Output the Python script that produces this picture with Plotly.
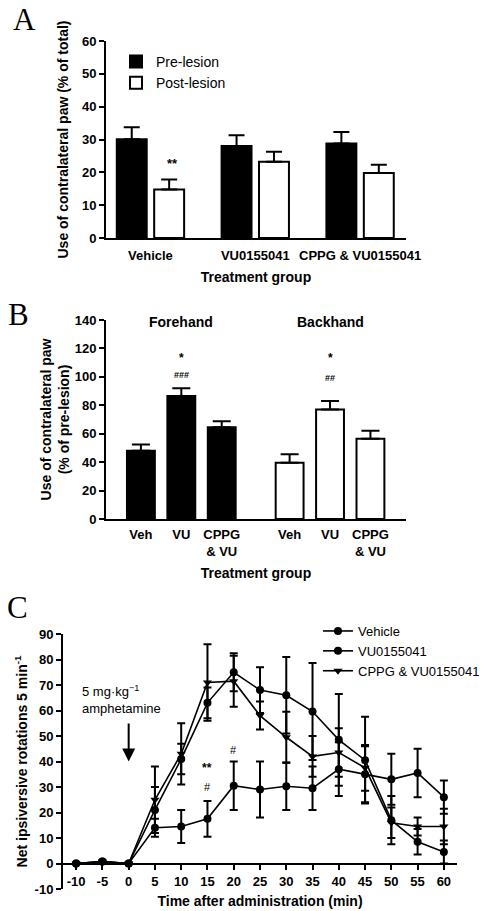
import plotly.graph_objects as go

W, H = 502, 911

# ---------------- Panel A data ----------------
a_groups = ["Vehicle", "VU0155041", "CPPG & VU0155041"]
a_pre = [30.1, 28.0, 28.8]
a_pre_err = [3.6, 3.3, 3.5]
a_post = [14.8, 23.2, 19.8]
a_post_err = [3.0, 3.1, 2.5]

# ---------------- Panel B data ----------------
b_labels = ["Veh", "VU", "CPPG<br>& VU"]
b_sides = ["Forehand", "Backhand"]
b_fore = [48.0, 86.5, 64.5]
b_fore_err = [4.5, 5.5, 4.3]
b_back = [39.5, 77.0, 56.5]
b_back_err = [6.0, 6.0, 5.5]

# ---------------- Panel C data ----------------
c_time = [-10, -5, 0, 5, 10, 15, 20, 25, 30, 35, 40, 45, 50, 55, 60]
c_yticks = [-10, 0, 10, 20, 30, 40, 50, 60, 70, 80, 90]
c_vehicle = [0, 0.8, 0, 21, 41, 63, 75, 68, 66, 59.6, 48.5, 40.5, 17, 8.5, 4.5]
c_vehicle_err = [0, 0, 0, 9, 6, 6, 7.5, 9, 15, 19, 18, 17, 9.5, 5, 4.5]
c_vu = [0, 0.8, 0, 14, 14.5, 17.5, 30.5, 29, 30.3, 29.5, 37, 35, 33, 35.5, 26]
c_vu_err = [0, 0, 0, 3.5, 6.5, 7, 9.5, 11, 9.3, 8.5, 10.5, 11, 10, 9.5, 6.5]
c_cppg = [0, 0.8, 0, 25, 43, 71, 71.5, 58, 49.5, 42, 43.5, 37.5, 16, 14.5, 14.5]
c_cppg_err = [0, 0, 0, 13, 12, 15, 10, 5.5, 10, 8, 9.5, 9, 6, 3.5, 7]

FONT = "Arial, Liberation Sans, Helvetica, sans-serif"
SERIF = "Times New Roman, Liberation Serif, serif"

def px_x(p):
    return p / W

def px_y(p):
    return 1 - p / H

fig = go.Figure()

# Panel A bars
fig.add_trace(go.Bar(
    x=a_groups, y=a_pre, name="Pre-lesion",
    marker=dict(color="black", line=dict(color="black", width=2)),
    error_y=dict(type="data", array=a_pre_err, arrayminus=[0] * 3, symmetric=False,
                 color="black", thickness=2, width=8),
    xaxis="x", yaxis="y", legend="legend"))
fig.add_trace(go.Bar(
    x=a_groups, y=a_post, name="Post-lesion",
    marker=dict(color="white", line=dict(color="black", width=2)),
    error_y=dict(type="data", array=a_post_err, arrayminus=[0] * 3, symmetric=False,
                 color="black", thickness=2, width=8),
    xaxis="x", yaxis="y", legend="legend"))

# Panel B bars (positions come from group/index layout)
GROUP_STEP = 3.68
b_x = [g * GROUP_STEP + i for g in range(2) for i in range(3)]
b_vals = b_fore + b_back
b_errs = b_fore_err + b_back_err
b_colors = ["black"] * 3 + ["white"] * 3
fig.add_trace(go.Bar(
    x=b_x, y=b_vals, width=0.69, showlegend=False,
    marker=dict(color=b_colors, line=dict(color="black", width=2)),
    error_y=dict(type="data", array=b_errs, arrayminus=[0] * 6, symmetric=False,
                 color="black", thickness=2, width=9),
    xaxis="x2", yaxis="y2"))

# Panel C lines
series = [
    ("Vehicle", c_vehicle, c_vehicle_err, "circle"),
    ("VU0155041", c_vu, c_vu_err, "circle"),
    ("CPPG & VU0155041", c_cppg, c_cppg_err, "triangle-down"),
]
for name, vals, errs, sym in series:
    fig.add_trace(go.Scatter(
        x=c_time, y=vals, name=name, mode="lines+markers",
        line=dict(color="black", width=1.6),
        marker=dict(symbol=sym, size=8, color="black"),
        error_y=dict(type="data", array=errs, color="black", thickness=2, width=4),
        xaxis="x3", yaxis="y3", legend="legend2", cliponaxis=False))

tickfont = dict(family=FONT, size=13, color="black", weight="bold")
titlefont = dict(family=FONT, size=14, color="black", weight="bold")
axis_common = dict(showline=True, linecolor="black", linewidth=2, showgrid=False,
                   zeroline=False, tickfont=tickfont, automargin=False)

fig.update_layout(
    width=W, height=H, margin=dict(l=0, r=0, t=0, b=0, autoexpand=False),
    paper_bgcolor="white", plot_bgcolor="white",
    barmode="group", bargap=0.286, bargroupgap=0.2,
    font=dict(family=FONT, color="black"),
    xaxis=dict(domain=[px_x(106), px_x(406)], range=[-0.424, 2.438], anchor="y",
               ticks="", ticklabelstandoff=4,
               title=dict(text="Treatment group", font=titlefont, standoff=11),
               **axis_common),
    yaxis=dict(domain=[px_y(238), px_y(41)], range=[0, 60], dtick=10, anchor="x",
               ticks="outside", ticklen=5, tickwidth=2, tickcolor="black",
               title=dict(text="Use of contralateral paw (% of total)", font=titlefont, standoff=10),
               **axis_common),
    xaxis2=dict(domain=[px_x(106), px_x(406)], range=[-0.864, 6.56], anchor="y2",
                tickmode="array", tickvals=b_x, ticktext=b_labels * 2,
                ticks="", ticklabelstandoff=2,
                title=dict(text="Treatment group", font=titlefont, standoff=11),
                **axis_common),
    yaxis2=dict(domain=[px_y(519), px_y(320)], range=[0, 140], dtick=20, anchor="x2",
                ticks="outside", ticklen=5, tickwidth=2, tickcolor="black",
                title=dict(text="Use of contralateral paw<br>(% of pre-lesion)", font=titlefont, standoff=2),
                **axis_common),
    xaxis3=dict(domain=[px_x(63), px_x(457)], range=[-12.5, 62.5], anchor="free",
                position=px_y(864),
                tickmode="array", tickvals=c_time, ticktext=[str(t) for t in c_time],
                ticks="outside", ticklen=5, tickwidth=2, tickcolor="black",
                title=dict(text="Time after administration (min)", font=titlefont, standoff=8),
                **axis_common),
    yaxis3=dict(domain=[px_y(889), px_y(634)], range=[-10, 90], anchor="x3",
                tickmode="array", tickvals=c_yticks, ticktext=[str(t) for t in c_yticks],
                ticks="outside", ticklen=5, tickwidth=2, tickcolor="black",
                title=dict(text="Net ipsiversive rotations 5 min<sup>-1</sup>", font=titlefont, standoff=4),
                **axis_common),
    legend=dict(x=px_x(116), y=px_y(46), xanchor="left", yanchor="top",
                font=dict(family=FONT, size=14, color="black"),
                bgcolor="rgba(0,0,0,0)", tracegroupgap=0, itemwidth=30),
    legend2=dict(x=px_x(318), y=px_y(616), xanchor="left", yanchor="top",
                 font=dict(family=FONT, size=13, color="black"),
                 bgcolor="rgba(0,0,0,0)", tracegroupgap=0, itemwidth=30),
)

ann = []
# Panel letters
for letter, (lx, ly) in zip(["A", "B", "C"], [(24, 20), (18, 314), (17, 607)]):
    ann.append(dict(text=letter, x=px_x(lx), y=px_y(ly), xref="paper", yref="paper",
                    showarrow=False, xanchor="center", yanchor="middle",
                    font=dict(family=SERIF, size=31, color="black")))

# Panel A significance
ann.append(dict(text="**", x=a_groups[0], xshift=22.5, y=a_post[0] + a_post_err[0] + 5,
                xref="x", yref="y", showarrow=False,
                font=dict(family=FONT, size=13, color="black", weight="bold")))

# Panel B side labels and significance
for k, side in enumerate(b_sides):
    ann.append(dict(text=side, x=b_x[3 * k + 1], y=138.5, xref="x2", yref="y2",
                    showarrow=False, font=titlefont))
ann.append(dict(text="*", x=b_x[1], y=113, xref="x2", yref="y2", showarrow=False,
                font=dict(family=FONT, size=12, color="black", weight="bold")))
ann.append(dict(text="###", x=b_x[1], y=101, xref="x2", yref="y2", showarrow=False,
                font=dict(family=FONT, size=9, color="black", weight="bold")))
ann.append(dict(text="*", x=b_x[4], y=113, xref="x2", yref="y2", showarrow=False,
                font=dict(family=FONT, size=12, color="black", weight="bold")))
ann.append(dict(text="##", x=b_x[4], y=99, xref="x2", yref="y2", showarrow=False,
                font=dict(family=FONT, size=9, color="black", weight="bold")))

# Panel C annotations
ann.append(dict(text="5 mg·kg<sup>−1</sup><br>amphetamine", x=-1.4, y=64.5,
                xref="x3", yref="y3", showarrow=False, align="left",
                font=dict(family=FONT, size=13, color="black")))
ann.append(dict(text="", x=0, y=40, ax=0, ay=55.5, xref="x3", yref="y3",
                axref="x3", ayref="y3", showarrow=True, arrowhead=2, arrowsize=1.3,
                arrowwidth=2, arrowcolor="black"))
ann.append(dict(text="**", x=15, y=37.5, xref="x3", yref="y3", showarrow=False,
                font=dict(family=FONT, size=12, color="black", weight="bold")))
ann.append(dict(text="#", x=15, y=30, xref="x3", yref="y3", showarrow=False,
                font=dict(family=FONT, size=11, color="black")))
ann.append(dict(text="#", x=20, y=44.6, xref="x3", yref="y3", showarrow=False,
                font=dict(family=FONT, size=11, color="black")))

fig.update_layout(annotations=ann)
fig.write_html(
    "out.html",
    config={"displayModeBar": False},
    post_script="document.body.style.margin='0';document.body.style.overflow='hidden';",
)
